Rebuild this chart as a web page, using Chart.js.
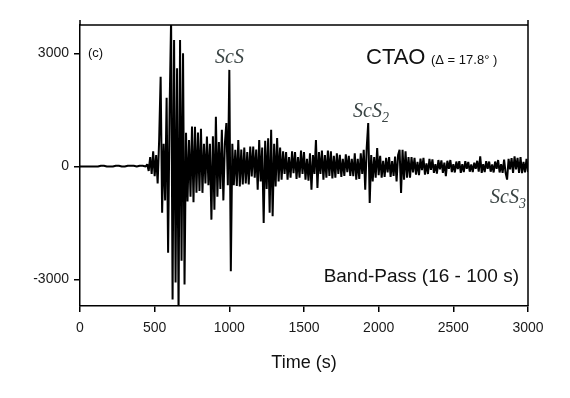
<!DOCTYPE html>
<html>
<head>
<meta charset="utf-8">
<script src="https://cdn.jsdelivr.net/npm/chart.js@4/dist/chart.umd.min.js"></script>
<style>
  html, body { margin: 0; padding: 0; background: #fff; }
  #wrap { width: 570px; height: 398px; }
</style>
</head>
<body>
<div id="wrap"><canvas id="trace" width="570" height="398"></canvas></div>
<script>
// --- data (band-pass 16-100 s) ---
const xTicks = [0, 500, 1000, 1500, 2000, 2500, 3000];
const yTicks = [-3000, 0, 3000];

// quiet part before the first arrival
const quietTimes = [0, 20, 40, 60, 80, 100, 120, 140, 160, 180, 200, 220, 240, 260, 280, 300, 320, 340, 360, 380, 400, 420, 440];
const quietAmp   = [0, 0, 0, 0, 0, 0, 0, 20, 20, 0, 0, 0, 20, 20, 0, 0, 20, 20, 20, 0, 20, 20, 0];

// main wavetrain, one value every 10 s from 450 s
const waveStart = 450;
const waveStep = 10;
const waveAmp = [
  60, -120, 250, -200, 400, -260, 300, -450, 700, 2380,          // 450
  -1230, 600, -900, 1820, -2290, 1500, 3900, -3530, 3350, -3080, // 550
  2600, -3900, 3350, -2500, 3000, -3130, 890, -930, 700, -800,   // 650
  1060, -950, 1050, -700, 900, -650, 1000, -700, 600, -450,      // 750
  790, -500, 600, -1410, 800, -1150, 1320, -800, 650, -600,      // 850
  970, -900, 600, 1150, -500, 2560, -2780, 600, -500, 440,       // 950
  -520, 700, -530, 450, -480, 500, -450, 380, -480, 530,         // 1050
  -265, 530, -300, 450, -620, 700, -400, 500, -1500, 680,        // 1150
  -600, 750, -1230, 970, -1320, 600, -530, 750, -400, 500,       // 1250
  -350, 400, -200, 380, -350, 250, -300, 400, -180, 380,         // 1350
  -330, 250, -300, 420, -200, 380, -350, 200, -380, 350,         // 1450
  -620, 300, -200, 700, -570, 380, -200, 420, -350, 300,         // 1550
  -300, 420, -250, 400, -320, 280, -300, 350, -200, 310,         // 1650
  -280, 200, -250, 320, -150, 280, -250, 200, -260, 350,         // 1750
  -350, 200, -330, 350, -200, 440, -620, 500, 1150, -970,        // 1850
  300, -400, 250, -300, 490, -230, 280, -300, 150, -280,         // 1950
  230, -160, 250, -280, 140, -250, 260, -400, 300, 440,          // 2050
  -700, 440, -350, 400, -300, 250, -300, 250, -160, 230,         // 2150
  -220, 120, -230, 210, -100, 230, -220, 80, -200, 200,          // 2250
  -90, 190, -170, 60, -190, 170, -80, 160, -170, 100,            // 2350
  -260, 150, -60, 170, -150, 60, -160, 130, -70, 140,            // 2450
  -170, 60, -150, 140, -60, 120, -140, 50, -150, 100,            // 2550
  -60, 150, -140, 265, -170, 60, -150, 140, -60, 130,            // 2650
  -140, 50, -160, 130, -60, 170, -160, 60, -170, 180,            // 2750
  -170, -350, 200, -80, 220, -170, 265, -80, 230, -170,          // 2850
  250, -180, 120, -160, 200, -150                                // 2950
];

const tracePoints = quietTimes.map((t, i) => ({ x: t, y: quietAmp[i] }))
  .concat(waveAmp.map((v, i) => ({ x: waveStart + i * waveStep, y: v })));

const SANS = "'Liberation Sans', Arial, sans-serif";
const SERIF = "'Liberation Serif', 'Times New Roman', serif";

// frame + text labels
const framePlugin = {
  id: 'frame',
  afterDraw(chart) {
    const { ctx, chartArea: ca } = chart;
    ctx.save();
    ctx.strokeStyle = '#000';
    ctx.lineWidth = 1.5;
    ctx.beginPath();
    ctx.moveTo(ca.left, ca.top - 5);
    ctx.lineTo(ca.left, ca.top);
    ctx.lineTo(ca.right, ca.top);
    ctx.lineTo(ca.right, ca.bottom);
    ctx.moveTo(ca.right, ca.top - 5);
    ctx.lineTo(ca.right, ca.top);
    ctx.stroke();

    ctx.fillStyle = '#111';
    ctx.textBaseline = 'alphabetic';
    ctx.font = '13px ' + SANS;
    ctx.fillText('(c)', ca.left + 8, ca.top + 32);

    ctx.font = '22px ' + SANS;
    ctx.fillText('CTAO', ca.left + 286, ca.top + 39);
    ctx.font = '13px ' + SANS;
    ctx.fillText('(\u0394 = 17.8\u00b0 )', ca.left + 351, ca.top + 39);

    ctx.font = '19px ' + SANS;
    ctx.textAlign = 'right';
    ctx.fillText('Band-Pass (16 - 100 s)', ca.right - 9, ca.bottom - 24);
    ctx.textAlign = 'left';

    ctx.fillStyle = '#3a4444';
    const phase = (x, y, sub) => {
      ctx.font = 'italic 20px ' + SERIF;
      ctx.fillText('ScS', x, y);
      if (sub) {
        const w = ctx.measureText('ScS').width;
        ctx.font = 'italic 14px ' + SERIF;
        ctx.fillText(sub, x + w, y + 5);
      }
    };
    phase(ca.left + 135, ca.top + 38, '');
    phase(ca.left + 273, ca.top + 92, '2');
    phase(ca.left + 410, ca.top + 178, '3');
    ctx.restore();
  }
};

new Chart(document.getElementById('trace'), {
  type: 'line',
  data: {
    datasets: [{
      data: tracePoints,
      borderColor: '#000',
      borderWidth: 2,
      borderJoinStyle: 'bevel',
      pointRadius: 0,
      tension: 0,
      fill: false
    }]
  },
  options: {
    responsive: false,
    animation: false,
    devicePixelRatio: 1,
    layout: { padding: { top: 25, right: 42, bottom: 24, left: 0 } },
    plugins: { legend: { display: false }, tooltip: { enabled: false } },
    scales: {
      x: {
        type: 'linear',
        min: 0,
        max: 3000,
        afterBuildTicks: s => { s.ticks = xTicks.map(v => ({ value: v })); },
        afterFit: s => { s.height = 68; },
        grid: { drawOnChartArea: false, drawTicks: true, tickLength: 6, color: '#000', lineWidth: 1.5 },
        border: { display: true, color: '#000', width: 1.5 },
        ticks: { color: '#1a1a1a', font: { family: SANS, size: 14 }, padding: 8, maxRotation: 0, callback: v => String(v) },
        title: { display: true, text: 'Time (s)', color: '#111', font: { family: SANS, size: 18 }, padding: { top: 2, bottom: 0 } }
      },
      y: {
        type: 'linear',
        min: -3700,
        max: 3750,
        afterBuildTicks: s => { s.ticks = yTicks.map(v => ({ value: v })); },
        afterFit: s => { s.width = 80; },
        grid: { drawOnChartArea: false, drawTicks: true, tickLength: 6, color: '#000', lineWidth: 1.5 },
        border: { display: true, color: '#000', width: 1.5 },
        ticks: { color: '#1a1a1a', font: { family: SANS, size: 14 }, padding: 5, callback: v => String(v) }
      }
    }
  },
  plugins: [framePlugin]
});
</script>
</body>
</html>
